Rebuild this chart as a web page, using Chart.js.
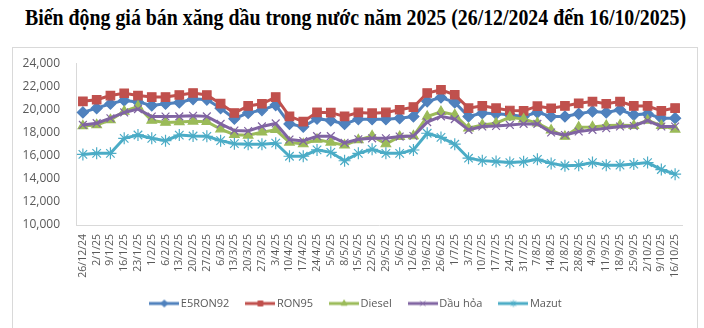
<!DOCTYPE html>
<html>
<head>
<meta charset="utf-8">
<script src="https://cdn.jsdelivr.net/npm/chart.js@4.4.1/dist/chart.umd.min.js"></script>
<style>
  body { margin: 0; background: #fff; width: 704px; height: 328px; overflow: hidden; position: relative; }
  #title { position: absolute; left: 25px; top: 5px; white-space: nowrap; transform-origin: left top;
           font: bold 23px "Liberation Serif", "Times New Roman", serif; color: #000; }
  #box { position: absolute; left: 12px; top: 47px; width: 684px; height: 300px; border: 1px solid #d9d9d9; border-bottom: none; }
  #chart { position: absolute; left: 13px; top: 40px; }
</style>
</head>
<body>
<div id="title">Biến động giá bán xăng dầu trong nước năm 2025 (26/12/2024 đến 16/10/2025)</div>
<div id="box"></div>
<canvas id="chart" width="684" height="300"></canvas>
<script>
const labels = ['26/12/24', '2/1/25', '9/1/25', '16/1/25', '23/1/25', '1/2/25', '6/2/25', '13/2/25', '20/2/25', '27/2/25',
  '6/3/25', '13/3/25', '20/3/25', '27/3/25', '3/4/25', '10/4/25', '17/4/25', '24/4/25', '5/5/25', '8/5/25',
  '15/5/25', '22/5/25', '29/5/25', '5/6/25', '12/6/25', '19/6/25', '26/6/25', '1/7/25', '3/7/25', '10/7/25',
  '17/7/25', '24/7/25', '31/7/25', '7/8/25', '14/8/25', '21/8/25', '28/8/25', '4/9/25', '11/9/25', '18/9/25',
  '25/9/25', '2/10/25', '9/10/25', '16/10/25'];

const e5ron92 = [19740, 20110, 20490, 20780, 20650, 20350, 20490, 20600, 20900, 20850,
  20100, 19200, 19700, 19940, 20380, 18750, 18500, 19200, 19040, 18750,
  19160, 19160, 19160, 19240, 19390, 20700, 21030, 20610, 19390, 19680,
  19620, 19530, 19390, 19740, 19390, 19390, 19620, 19830, 19740, 19970,
  19530, 19620, 19240, 19240];

const ron95 = [20700, 20840, 21200, 21400, 21200, 21070, 21070, 21250, 21420, 21250,
  20500, 19690, 20300, 20490, 21070, 19400, 18940, 19750, 19720, 19400,
  19740, 19680, 19740, 19970, 20200, 21420, 21700, 21270, 20110, 20310,
  20110, 19910, 19880, 20280, 20100, 20300, 20530, 20680, 20490, 20680,
  20300, 20300, 19880, 20120];

const diesel = [18570, 18660, 19100, 19830, 20260, 19040, 18870, 18920, 18970, 18940,
  18300, 17810, 17760, 18030, 18240, 17150, 17010, 17400, 17150, 16900,
  17360, 17700, 17010, 17650, 17700, 19390, 19800, 19530, 18370, 18660,
  18810, 19330, 19160, 18820, 18200, 17660, 18460, 18480, 18600, 18640,
  18600, 19050, 18600, 18280];

const dauHoa = [18660, 18810, 19240, 19740, 20030, 19390, 19390, 19400, 19450, 19400,
  18750, 18170, 18130, 18530, 18790, 17400, 17270, 17690, 17690, 17110,
  17420, 17500, 17500, 17650, 17700, 18900, 19400, 19160, 18230, 18520,
  18570, 18660, 18750, 18750, 18000, 17790, 18090, 18230, 18370, 18520,
  18570, 19040, 18520, 18520];

const mazut = [16110, 16200, 16200, 17500, 17790, 17500, 17300, 17780, 17700, 17670,
  17300, 17040, 16990, 16990, 17080, 15950, 15950, 16500, 16290, 15560,
  16200, 16550, 16200, 16200, 16490, 17940, 17580, 16990, 15780, 15570,
  15490, 15400, 15480, 15680, 15330, 15130, 15180, 15400, 15180, 15180,
  15270, 15400, 14800, 14400];

const yTicks = { min: 10000, max: 24000, step: 2000 };

// the original title is a narrow bold serif, squeeze it to the same width
const tt = document.getElementById('title');
tt.style.transform = `scaleX(${661 / tt.offsetWidth})`;

Chart.defaults.font.family = '"Open Sans", sans-serif';
Chart.defaults.color = '#595959';

const seriesDefs = [
  { label: 'E5RON92', data: e5ron92, color: '#4F81BD', style: 'rectRot', r: 5.5 },
  { label: 'RON95', data: ron95, color: '#C0504D', style: 'rect', r: 6 },
  { label: 'Diesel', data: diesel, color: '#9BBB59', style: 'triangle', r: 5.5 },
  { label: 'Dầu hỏa', data: dauHoa, color: '#8064A2', style: 'crossRot', r: 5.5 },
  { label: 'Mazut', data: mazut, color: '#4BACC6', style: 'star', r: 6 },
];

function legendIcon(color, style) {
  const c = document.createElement('canvas');
  c.width = 30; c.height = 12;
  const ctx = c.getContext('2d');
  ctx.strokeStyle = color;
  ctx.fillStyle = color;
  ctx.lineWidth = 3;
  ctx.beginPath(); ctx.moveTo(0, 6); ctx.lineTo(30, 6); ctx.stroke();
  ctx.lineWidth = 1;
  Chart.helpers.drawPoint(ctx, { pointStyle: style, radius: 3.5, borderWidth: 1, rotation: 0 }, 15, 6);
  return c;
}
const icons = seriesDefs.map(s => legendIcon(s.color, s.style));

const datasets = seriesDefs.map((s, i) => ({
  label: s.label,
  data: s.data,
  borderColor: s.color,
  backgroundColor: s.color,
  borderWidth: 3,
  tension: 0,
  pointStyle: s.style,
  pointRadius: s.r,
  pointBackgroundColor: s.color,
  pointBorderColor: s.color,
  pointBorderWidth: 1.2,
  order: seriesDefs.length - 1 - i,
}));

// legend sits a little right of the canvas centre in the original
const nudgeLegend = {
  id: 'nudgeLegend',
  afterLayout(chart) {
    chart.legend.left += 10;
    chart.legend.right += 10;
  },
};

new Chart(document.getElementById('chart'), {
  type: 'line',
  data: { labels, datasets },
  plugins: [nudgeLegend],
  options: {
    responsive: false,
    animation: false,
    layout: { padding: { left: 0, right: 15, top: 6, bottom: 21 } },
    plugins: {
      tooltip: { enabled: false },
      legend: {
        position: 'bottom',
        labels: {
          usePointStyle: true,
          pointStyleWidth: 22,
          padding: 20,
          color: '#595959',
          font: { size: 11 },
          generateLabels(chart) {
            const items = Chart.defaults.plugins.legend.labels.generateLabels(chart);
            items.forEach(it => { it.pointStyle = icons[it.datasetIndex]; });
            return items.sort((a, b) => a.datasetIndex - b.datasetIndex);
          },
        },
      },
    },
    scales: {
      x: {
        offset: true,
        grid: { display: false, drawTicks: false },
        border: { display: true, color: '#d9d9d9', width: 1 },
        ticks: { autoSkip: false, maxRotation: 90, minRotation: 90, padding: 9, font: { size: 10.5 }, color: '#595959' },
        afterFit(scale) { scale.height = 53; },
      },
      y: {
        min: yTicks.min,
        max: yTicks.max,
        grid: { display: false, drawTicks: false },
        border: { display: true, color: '#d9d9d9', width: 1 },
        ticks: {
          stepSize: yTicks.step,
          padding: 16,
          font: { size: 12 },
          color: '#595959',
          callback: v => v.toLocaleString('en-US'),
        },
        afterFit(scale) { scale.width = 63; },
      },
    },
  },
});
</script>
</body>
</html>
